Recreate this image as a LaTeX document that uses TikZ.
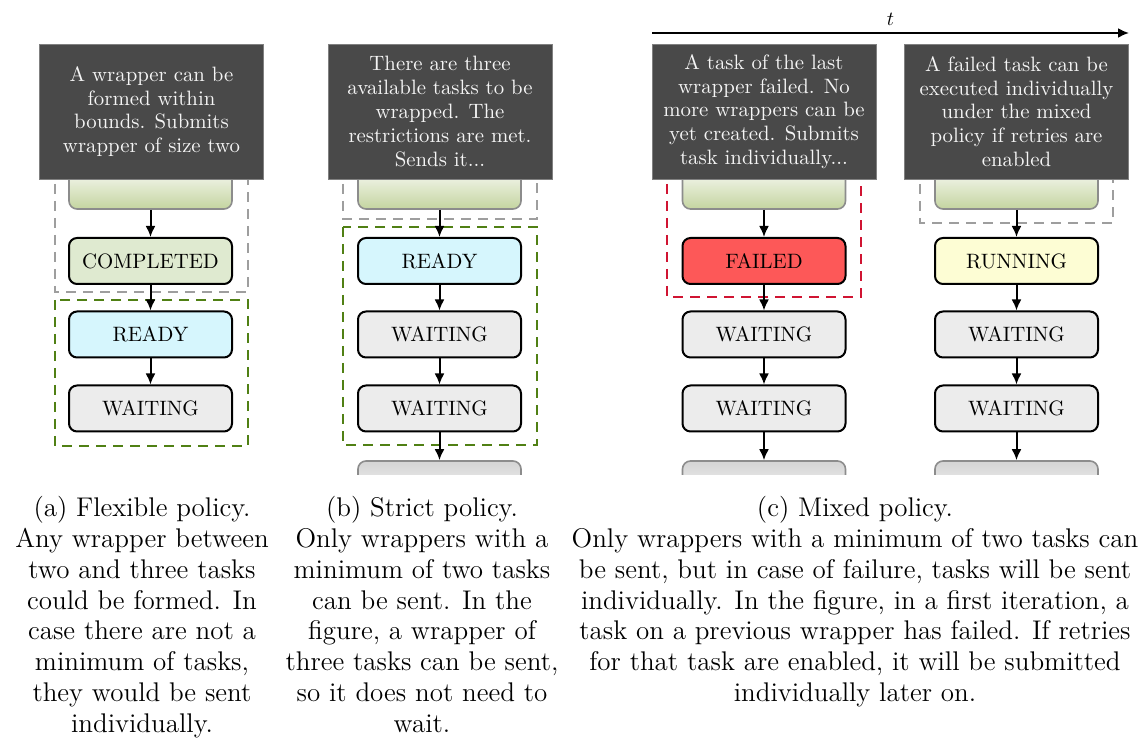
\documentclass[tikz,border=0pt]{standalone}
\usetikzlibrary{arrows.meta}
\definecolor{notebg}{RGB}{73,73,73}
\definecolor{prevgreen}{RGB}{196,212,160}
\definecolor{donefill}{RGB}{223,234,208}
\definecolor{readyfill}{RGB}{214,246,253}
\definecolor{waitfill}{RGB}{236,236,236}
\definecolor{failfill}{RGB}{253,88,88}
\definecolor{runfill}{RGB}{253,253,212}
\definecolor{groupgreen}{RGB}{80,128,20}
\definecolor{groupred}{RGB}{208,20,50}
\begin{document}
\begin{tikzpicture}[x=0.5pt,y=-0.5pt,font=\fontsize{10.4}{11.9}\selectfont,
  note/.style={fill=notebg,draw=black!50,text=white!96!black,minimum width=112pt,
    minimum height=67.5pt,align=center,inner sep=0pt},
  task/.style={draw=black,line width=1pt,rounded corners=4pt,minimum width=81.5pt,
    minimum height=23pt,inner sep=0pt},
  prevtask/.style={draw=black!45,line width=0.8pt,rounded corners=4pt,minimum width=81.5pt,
    minimum height=23pt,top color=white,bottom color=prevgreen},
  nexttask/.style={draw=black!45,line width=0.8pt,rounded corners=4pt,minimum width=81.5pt,
    minimum height=23pt,top color=black!17,bottom color=white},
  flow/.style={-{Latex[length=5.5pt,width=5pt]},line width=1pt},
  group/.style={dash pattern=on 5pt off 3.5pt,line width=0.8pt},
  legend/.style={font=\fontsize{13.5}{15.4}\selectfont,align=center,anchor=north,inner sep=0pt}]
  \useasboundingbox (0,0) rectangle (1142,742);
  % wrapper groups
  \draw[group,black!38] (55,150) rectangle (248,292);
  \draw[group,groupgreen] (55,300) rectangle (248,446);
  \draw[group,black!38] (343,150) rectangle (537,219);
  \draw[group,groupgreen] (343,227) rectangle (537,445);
  \draw[group,groupred] (667,150) rectangle (861,297);
  \draw[group,black!38] (920,150) rectangle (1113,223);
  % previous tasks, half hidden
  \node[prevtask] (pA) at (150.5,186) {};
  \node[prevtask] (pB) at (439.5,186) {};
  \node[prevtask] (pC) at (764,186) {};
  \node[prevtask] (pD) at (1016.5,186) {};
  % notes
  \node[note] (noteA) at (151.5,111.5) {A wrapper can be\\formed within\\bounds. Submits\\wrapper of size two};
  \node[note] (noteB) at (440,111.5) {There are three\\available tasks to be\\wrapped. The\\restrictions are met.\\Sends it...};
  \node[note] (noteC) at (764,111.5) {A task of the last\\wrapper failed. No\\more wrappers can be\\yet created. Submits\\task individually...};
  \node[note] (noteD) at (1016.5,111.5) {A failed task can be\\executed individually\\under the mixed\\policy if retries are\\enabled};
  % tasks
  \node[task,fill=donefill] (cA) at (150.5,261) {COMPLETED};
  \node[task,fill=readyfill] (rA) at (150.5,334.5) {READY};
  \node[task,fill=waitfill] (wA) at (150.5,408.5) {WAITING};
  \node[task,fill=readyfill] (rB) at (439.5,261) {READY};
  \node[task,fill=waitfill] (wB1) at (439.5,334.5) {WAITING};
  \node[task,fill=waitfill] (wB2) at (439.5,408.5) {WAITING};
  \node[task,fill=failfill] (fC) at (764,261) {FAILED};
  \node[task,fill=waitfill] (wC1) at (764,334.5) {WAITING};
  \node[task,fill=waitfill] (wC2) at (764,408.5) {WAITING};
  \node[task,fill=runfill] (uD) at (1016.5,261) {RUNNING};
  \node[task,fill=waitfill] (wD1) at (1016.5,334.5) {WAITING};
  \node[task,fill=waitfill] (wD2) at (1016.5,408.5) {WAITING};
  % next tasks, cut off
  \begin{scope}
    \clip (0,450) rectangle (1142,475);
    \node[nexttask] (nB) at (439.5,484) {};
    \node[nexttask] (nC) at (764,484) {};
    \node[nexttask] (nD) at (1016.5,484) {};
  \end{scope}
  % flow
  \draw[flow] (pA) -- (cA);
  \draw[flow] (cA) -- (rA);
  \draw[flow] (rA) -- (wA);
  \draw[flow] (pB) -- (rB);
  \draw[flow] (rB) -- (wB1);
  \draw[flow] (wB1) -- (wB2);
  \draw[flow] (wB2) -- (nB);
  \draw[flow] (pC) -- (fC);
  \draw[flow] (fC) -- (wC1);
  \draw[flow] (wC1) -- (wC2);
  \draw[flow] (wC2) -- (nC);
  \draw[flow] (pD) -- (uD);
  \draw[flow] (uD) -- (wD1);
  \draw[flow] (wD1) -- (wD2);
  \draw[flow] (wD2) -- (nD);
  % time
  \coordinate (t0) at (652,33);
  \coordinate (t1) at (1129,33);
  \draw[flow] (t0) -- node[above] (tl) {$t$} (t1);
  % captions
  \node[legend] (capA) at (142,496) {(a) Flexible policy.\\Any wrapper between\\two and three tasks\\could be formed. In\\case there are not a\\minimum of tasks,\\they would be sent\\individually.};
  \node[legend] (capB) at (422,496) {(b) Strict policy.\\Only wrappers with a\\minimum of two tasks\\can be sent. In the\\figure, a wrapper of\\three tasks can be sent,\\so it does not need to\\wait.};
  \node[legend] (capC) at (855,496) {(c) Mixed policy.\\Only wrappers with a minimum of two tasks can\\be sent, but in case of failure, tasks will be sent\\individually. In the figure, in a first iteration, a\\task on a previous wrapper has failed. If retries\\for that task are enabled, it will be submitted\\individually later on.};
\end{tikzpicture}
\end{document}
